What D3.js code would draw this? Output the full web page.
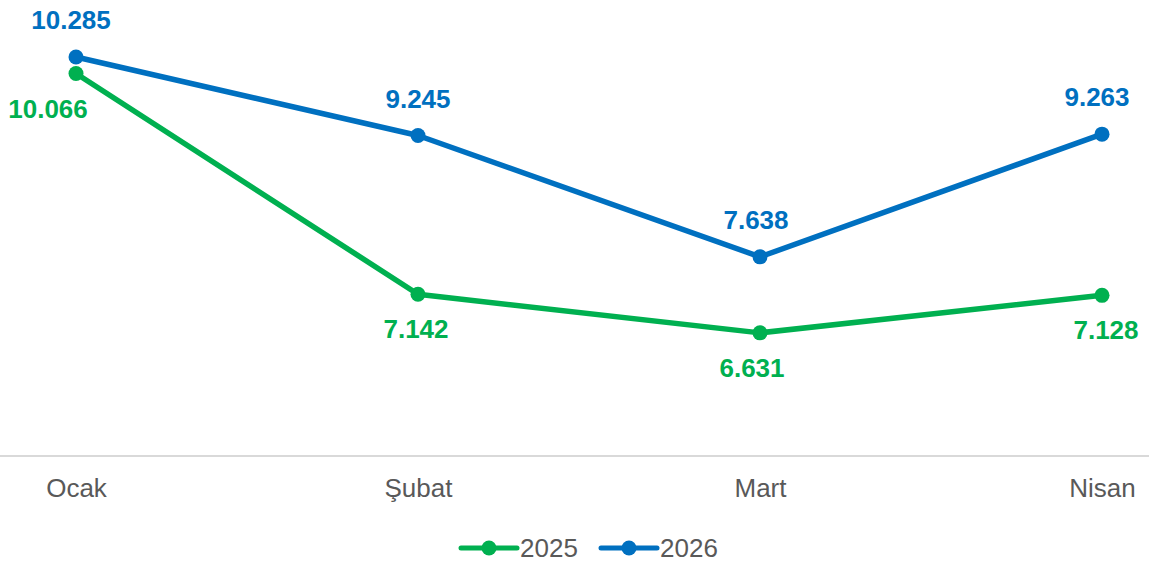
<!DOCTYPE html>
<html>
<head>
<meta charset="utf-8">
<script src="https://cdn.jsdelivr.net/npm/d3@7/dist/d3.min.js"></script>
<style>
  html, body { margin: 0; padding: 0; background: #fff; }
  svg { display: block; font-family: "Liberation Sans", Arial, sans-serif; }
</style>
</head>
<body>
<svg id="chart" width="1149" height="568"></svg>
<script>
const categories = ["Ocak", "Şubat", "Mart", "Nisan"];
const seriesNames = ["2025", "2026"];
const values2025 = [10.066, 7.142, 6.631, 7.128];
const values2026 = [10.285, 9.245, 7.638, 9.263];
const colors = ["#00b050", "#0070c0"];

const W = 1149, H = 568;
const svg = d3.select("#chart");

const x = d3.scalePoint().domain(categories).range([76, 1102]);
const y = d3.scaleLinear().domain([5, 11]).range([456, 3]);

// baseline axis line
svg.append("line")
  .attr("x1", 0).attr("x2", W)
  .attr("y1", y(5)).attr("y2", y(5))
  .attr("stroke", "#d9d9d9").attr("stroke-width", 2);

// x axis labels
const xAxis = d3.axisBottom(x).tickSize(0).tickPadding(0);
const gx = svg.append("g").attr("transform", `translate(0,${y(5)})`).call(xAxis);
gx.select(".domain").remove();
gx.selectAll("text")
  .attr("y", 32).attr("dy", "0.35em")
  .attr("fill", "#595959")
  .style("font-size", "26px")
  .style("font-family", "'Liberation Sans', Arial, sans-serif");

const series = [
  { name: seriesNames[0], values: values2025, color: colors[0], above: false },
  { name: seriesNames[1], values: values2026, color: colors[1], above: true }
];

// label horizontal shifts (first category shifted to avoid overlap)
const labelShift = { "2025": [-28, -2, -8, 4], "2026": [-5, 0, -4, -5] };

const line = d3.line()
  .x((d, i) => x(categories[i]))
  .y(d => y(d));

series.forEach(s => {
  svg.append("path")
    .datum(s.values)
    .attr("d", line)
    .attr("fill", "none")
    .attr("stroke", s.color)
    .attr("stroke-width", 5.5)
    .attr("stroke-linejoin", "round");

  svg.selectAll(null)
    .data(s.values)
    .enter().append("circle")
    .attr("cx", (d, i) => x(categories[i]))
    .attr("cy", d => y(d))
    .attr("r", 7.5)
    .attr("fill", s.color);

  svg.selectAll(null)
    .data(s.values)
    .enter().append("text")
    .attr("x", (d, i) => x(categories[i]) + labelShift[s.name][i])
    .attr("y", d => y(d) + (s.above ? -37 : 35))
    .attr("dy", "0.35em")
    .attr("text-anchor", "middle")
    .attr("fill", s.color)
    .style("font-size", "26px")
    .style("font-weight", "bold")
    .text(d => d3.format(".3f")(d));
});

// legend
const legend = svg.append("g");
const legendItems = [
  { name: seriesNames[0], color: colors[0], x0: 461 },
  { name: seriesNames[1], color: colors[1], x0: 601 }
];
legendItems.forEach(it => {
  const g = legend.append("g").attr("transform", `translate(${it.x0},548)`);
  g.append("line").attr("x1", 0).attr("x2", 56).attr("y1", 0).attr("y2", 0)
    .attr("stroke", it.color).attr("stroke-width", 5).attr("stroke-linecap", "round");
  g.append("circle").attr("cx", 28).attr("cy", 0).attr("r", 7.5).attr("fill", it.color);
  g.append("text").attr("x", 59).attr("y", 0).attr("dy", "0.35em")
    .attr("fill", "#595959").style("font-size", "26px").text(it.name);
});
</script>
</body>
</html>
